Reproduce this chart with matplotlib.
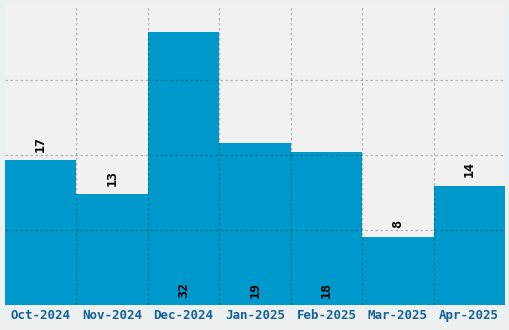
"""Monthly counts bar chart."""

import numpy as np
from matplotlib import pyplot as plt

months = ["Oct-2024", "Nov-2024", "Dec-2024", "Jan-2025", "Feb-2025", "Mar-2025", "Apr-2025"]
counts = [17, 13, 32, 19, 18, 8, 14]
# where each value label sits: above the bar or at its base
label_spots = ["top", "top", "base", "base", "base", "top", "top"]

BAR_COLOR = "#0099cc"
FONT = "DejaVu Sans Mono"

fig = plt.figure(figsize=(5.1, 3.3), dpi=100, facecolor="#edf0f1")
ax = fig.add_axes([5 / 510, 25 / 330, 500 / 510, 300 / 330])
ax.set_facecolor("#f1f1f1")

x = np.arange(len(months))
ax.bar(x, counts, width=1.0, color=BAR_COLOR, zorder=2)

ymax = max(counts) * 1.1
ax.set_ylim(0, ymax)
ax.set_xlim(-0.5, len(months) - 0.5)
ax.set_yticks(np.linspace(0, ymax, 5)[1:-1])
ax.set_yticklabels([])
ax.set_xticks(x)
ax.set_xticklabels(months, fontfamily=FONT, fontweight="bold", fontsize=9, color="#15609a")
ax.set_xticks(x[:-1] + 0.5, minor=True)
ax.tick_params(axis="both", which="both", length=0)
ax.tick_params(axis="x", pad=3)

grid_style = dict(color="black", alpha=0.25, linestyle=(0, (2, 2)), linewidth=0.9, zorder=3)
ax.grid(False)
ax.grid(True, axis="y", which="major", **grid_style)
ax.grid(True, axis="x", which="minor", **grid_style)
ax.set_axisbelow(False)
for spine in ax.spines.values():
    spine.set_visible(False)

pad = ymax * 0.022
for xi, value, spot in zip(x, counts, label_spots):
    y = value + pad * 1.3 if spot == "top" else pad * 1.1
    ax.text(xi, y, str(value), rotation=90, ha="center", va="bottom",
            fontfamily=FONT, fontweight="bold", fontsize=9.5, color="black", zorder=4)

fig.savefig("out.png", dpi=100, facecolor=fig.get_facecolor())
